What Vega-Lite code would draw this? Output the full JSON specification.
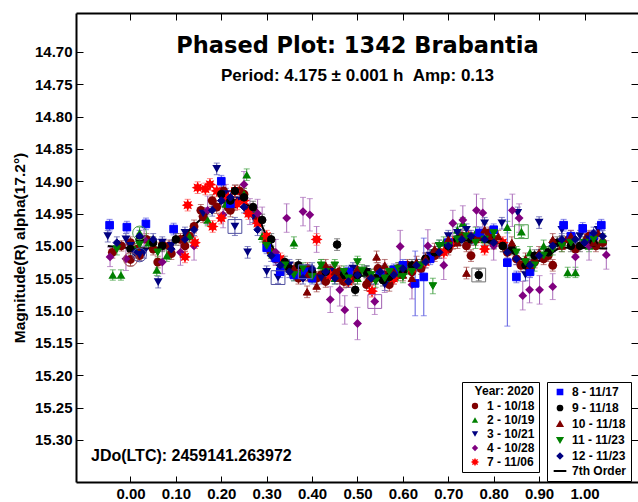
{
"$schema":"https://vega.github.io/schema/vega-lite/v6.json",
"width":562,"height":469,
"autosize":{"type":"none"},
"padding":{"left":76,"top":13,"right":0,"bottom":20},
"background":"white",
"config":{"view":{"stroke":null},"axis":{"grid":false}},
"datasets":{
"a":[
{"s":"1 - 10/18","p":-0.04,"m":15.010,"e":0.009},{"s":"1 - 10/18","p":-0.02,"m":15.000,"e":0.008},{"s":"1 - 10/18","p":0.00,"m":14.995,"e":0.009},{"s":"1 - 10/18","p":0.02,"m":15.015,"e":0.008},{"s":"1 - 10/18","p":0.00,"m":15.021,"e":0.010},{"s":"1 - 10/18","p":0.05,"m":15.005,"e":0.009},{"s":"1 - 10/18","p":0.06,"m":15.025,"e":0.009},{"s":"1 - 10/18","p":0.07,"m":14.998,"e":0.008},{"s":"1 - 10/18","p":0.09,"m":15.012,"e":0.009},{"s":"1 - 10/18","p":0.11,"m":14.990,"e":0.009},{"s":"1 - 10/18","p":0.12,"m":15.000,"e":0.009},{"s":"1 - 10/18","p":0.14,"m":14.970,"e":0.010},{"s":"1 - 10/18","p":0.16,"m":14.955,"e":0.009},{"s":"1 - 10/18","p":0.18,"m":14.930,"e":0.009},{"s":"1 - 10/18","p":0.19,"m":14.940,"e":0.010},{"s":"1 - 10/18","p":0.21,"m":14.925,"e":0.009},{"s":"1 - 10/18","p":0.22,"m":14.945,"e":0.010},{"s":"1 - 10/18","p":0.23,"m":14.935,"e":0.010},{"s":"1 - 10/18","p":0.24,"m":14.915,"e":0.009},{"s":"1 - 10/18","p":0.25,"m":14.920,"e":0.009},{"s":"1 - 10/18","p":0.26,"m":14.945,"e":0.010},{"s":"1 - 10/18","p":0.28,"m":14.960,"e":0.009},{"s":"1 - 10/18","p":0.30,"m":14.995,"e":0.009},{"s":"1 - 10/18","p":0.32,"m":15.020,"e":0.010},{"s":"1 - 10/18","p":0.35,"m":15.035,"e":0.009},{"s":"1 - 10/18","p":0.38,"m":15.040,"e":0.009},{"s":"1 - 10/18","p":0.41,"m":15.050,"e":0.010},{"s":"1 - 10/18","p":0.43,"m":15.055,"e":0.009},{"s":"1 - 10/18","p":0.44,"m":15.038,"e":0.009},{"s":"1 - 10/18","p":0.47,"m":15.055,"e":0.010},{"s":"1 - 10/18","p":0.50,"m":15.042,"e":0.009},{"s":"1 - 10/18","p":0.53,"m":15.050,"e":0.010},{"s":"1 - 10/18","p":0.56,"m":15.045,"e":0.009},{"s":"1 - 10/18","p":0.57,"m":15.060,"e":0.010},{"s":"1 - 10/18","p":0.59,"m":15.035,"e":0.009},{"s":"1 - 10/18","p":0.62,"m":15.040,"e":0.010},{"s":"1 - 10/18","p":0.65,"m":15.020,"e":0.009},{"s":"1 - 10/18","p":0.68,"m":15.010,"e":0.009},{"s":"1 - 10/18","p":0.71,"m":14.995,"e":0.010},{"s":"1 - 10/18","p":0.74,"m":15.000,"e":0.009},{"s":"1 - 10/18","p":0.75,"m":15.015,"e":0.009},{"s":"1 - 10/18","p":0.77,"m":14.985,"e":0.009},{"s":"1 - 10/18","p":0.80,"m":14.995,"e":0.010},{"s":"1 - 10/18","p":0.83,"m":15.010,"e":0.009},{"s":"1 - 10/18","p":0.86,"m":15.030,"e":0.010},{"s":"1 - 10/18","p":0.89,"m":15.025,"e":0.009},{"s":"1 - 10/18","p":0.92,"m":15.015,"e":0.009},{"s":"1 - 10/18","p":0.93,"m":15.030,"e":0.009},{"s":"1 - 10/18","p":0.95,"m":14.995,"e":0.010},{"s":"1 - 10/18","p":0.98,"m":15.005,"e":0.009},{"s":"1 - 10/18","p":1.01,"m":14.985,"e":0.009},{"s":"1 - 10/18","p":1.04,"m":14.995,"e":0.010},
{"s":"1 - 10/18","p":0.015,"m":15.005,"e":0.009},{"s":"1 - 10/18","p":0.035,"m":14.990,"e":0.009},{"s":"1 - 10/18","p":0.085,"m":15.000,"e":0.009},{"s":"1 - 10/18","p":0.13,"m":14.985,"e":0.009},{"s":"1 - 10/18","p":0.155,"m":14.945,"e":0.009},{"s":"1 - 10/18","p":0.205,"m":14.915,"e":0.009},{"s":"1 - 10/18","p":0.215,"m":14.940,"e":0.009},{"s":"1 - 10/18","p":0.275,"m":14.950,"e":0.009},{"s":"1 - 10/18","p":0.31,"m":15.010,"e":0.009},{"s":"1 - 10/18","p":0.34,"m":15.030,"e":0.009},{"s":"1 - 10/18","p":0.37,"m":15.050,"e":0.009},{"s":"1 - 10/18","p":0.39,"m":15.035,"e":0.009},{"s":"1 - 10/18","p":0.42,"m":15.045,"e":0.009},{"s":"1 - 10/18","p":0.46,"m":15.040,"e":0.009},{"s":"1 - 10/18","p":0.49,"m":15.050,"e":0.009},{"s":"1 - 10/18","p":0.52,"m":15.060,"e":0.009},{"s":"1 - 10/18","p":0.545,"m":15.035,"e":0.009},{"s":"1 - 10/18","p":0.58,"m":15.050,"e":0.009},{"s":"1 - 10/18","p":0.61,"m":15.030,"e":0.009},{"s":"1 - 10/18","p":0.64,"m":15.035,"e":0.009},{"s":"1 - 10/18","p":0.67,"m":15.015,"e":0.009},{"s":"1 - 10/18","p":0.70,"m":15.005,"e":0.009},{"s":"1 - 10/18","p":0.73,"m":14.985,"e":0.009},{"s":"1 - 10/18","p":0.79,"m":14.980,"e":0.009},{"s":"1 - 10/18","p":0.82,"m":15.000,"e":0.009},{"s":"1 - 10/18","p":0.85,"m":15.020,"e":0.009},{"s":"1 - 10/18","p":0.88,"m":15.035,"e":0.009},{"s":"1 - 10/18","p":0.91,"m":15.020,"e":0.009},{"s":"1 - 10/18","p":0.965,"m":14.990,"e":0.009},{"s":"1 - 10/18","p":1.025,"m":15.000,"e":0.009},
{"s":"2 - 10/19","p":-0.039,"m":15.045,"e":0.008},{"s":"2 - 10/19","p":-0.021,"m":15.045,"e":0.008},{"s":"2 - 10/19","p":0.01,"m":15.005,"e":0.009},{"s":"2 - 10/19","p":0.02,"m":14.980,"e":0.009},{"s":"2 - 10/19","p":0.04,"m":14.995,"e":0.009},{"s":"2 - 10/19","p":0.058,"m":15.037,"e":0.009},{"s":"2 - 10/19","p":0.08,"m":15.015,"e":0.009},{"s":"2 - 10/19","p":0.13,"m":14.985,"e":0.009},{"s":"2 - 10/19","p":0.17,"m":14.960,"e":0.009},{"s":"2 - 10/19","p":0.21,"m":14.935,"e":0.009},{"s":"2 - 10/19","p":0.256,"m":14.890,"e":0.009},{"s":"2 - 10/19","p":0.27,"m":14.945,"e":0.009},{"s":"2 - 10/19","p":0.29,"m":14.985,"e":0.009},{"s":"2 - 10/19","p":0.33,"m":15.030,"e":0.009},{"s":"2 - 10/19","p":0.36,"m":14.995,"e":0.009},{"s":"2 - 10/19","p":0.37,"m":15.040,"e":0.009},{"s":"2 - 10/19","p":0.42,"m":15.030,"e":0.009},{"s":"2 - 10/19","p":0.47,"m":15.045,"e":0.009},{"s":"2 - 10/19","p":0.52,"m":15.040,"e":0.009},{"s":"2 - 10/19","p":0.57,"m":15.050,"e":0.009},{"s":"2 - 10/19","p":0.61,"m":15.035,"e":0.009},{"s":"2 - 10/19","p":0.66,"m":15.015,"e":0.009},{"s":"2 - 10/19","p":0.69,"m":14.995,"e":0.009},{"s":"2 - 10/19","p":0.72,"m":14.975,"e":0.009},{"s":"2 - 10/19","p":0.732,"m":14.965,"e":0.009},{"s":"2 - 10/19","p":0.76,"m":14.980,"e":0.009},{"s":"2 - 10/19","p":0.80,"m":14.985,"e":0.009},{"s":"2 - 10/19","p":0.83,"m":14.971,"e":0.009},{"s":"2 - 10/19","p":0.861,"m":14.978,"e":0.009},{"s":"2 - 10/19","p":0.88,"m":15.010,"e":0.009},{"s":"2 - 10/19","p":0.91,"m":15.000,"e":0.009},{"s":"2 - 10/19","p":0.963,"m":15.041,"e":0.008},{"s":"2 - 10/19","p":0.98,"m":15.041,"e":0.008},{"s":"2 - 10/19","p":1.01,"m":15.000,"e":0.009},{"s":"2 - 10/19","p":1.04,"m":14.990,"e":0.009},
{"s":"2 - 10/19","p":0.25,"m":14.920,"e":0.009},{"s":"2 - 10/19","p":0.31,"m":15.010,"e":0.009},{"s":"2 - 10/19","p":0.39,"m":15.040,"e":0.009},{"s":"2 - 10/19","p":0.45,"m":15.050,"e":0.009},{"s":"2 - 10/19","p":0.50,"m":15.050,"e":0.009},{"s":"2 - 10/19","p":0.55,"m":15.040,"e":0.009},{"s":"2 - 10/19","p":0.59,"m":15.045,"e":0.009},{"s":"2 - 10/19","p":0.63,"m":15.030,"e":0.009},{"s":"2 - 10/19","p":0.74,"m":14.985,"e":0.009},{"s":"2 - 10/19","p":0.78,"m":14.990,"e":0.009},{"s":"2 - 10/19","p":0.92,"m":15.010,"e":0.009},{"s":"2 - 10/19","p":0.95,"m":14.995,"e":0.009},
{"s":"3 - 10/21","p":-0.05,"m":14.985,"e":0.009},{"s":"3 - 10/21","p":-0.01,"m":14.990,"e":0.009},{"s":"3 - 10/21","p":0.02,"m":15.014,"e":0.009},{"s":"3 - 10/21","p":0.03,"m":15.010,"e":0.009},{"s":"3 - 10/21","p":0.061,"m":15.056,"e":0.009},{"s":"3 - 10/21","p":0.09,"m":15.000,"e":0.009},{"s":"3 - 10/21","p":0.12,"m":14.980,"e":0.009},{"s":"3 - 10/21","p":0.16,"m":14.950,"e":0.009},{"s":"3 - 10/21","p":0.19,"m":14.881,"e":0.009},{"s":"3 - 10/21","p":0.21,"m":14.920,"e":0.009},{"s":"3 - 10/21","p":0.23,"m":14.970,"e":0.014},{"s":"3 - 10/21","p":0.24,"m":14.930,"e":0.009},{"s":"3 - 10/21","p":0.258,"m":15.010,"e":0.009},{"s":"3 - 10/21","p":0.27,"m":14.955,"e":0.009},{"s":"3 - 10/21","p":0.30,"m":15.040,"e":0.009},{"s":"3 - 10/21","p":0.325,"m":15.049,"e":0.009},{"s":"3 - 10/21","p":0.35,"m":15.030,"e":0.009},{"s":"3 - 10/21","p":0.39,"m":15.045,"e":0.009},{"s":"3 - 10/21","p":0.44,"m":15.040,"e":0.009},{"s":"3 - 10/21","p":0.49,"m":15.035,"e":0.009},{"s":"3 - 10/21","p":0.54,"m":15.050,"e":0.009},{"s":"3 - 10/21","p":0.58,"m":15.040,"e":0.009},{"s":"3 - 10/21","p":0.62,"m":15.035,"e":0.009},{"s":"3 - 10/21","p":0.66,"m":15.015,"e":0.009},{"s":"3 - 10/21","p":0.70,"m":14.985,"e":0.009},{"s":"3 - 10/21","p":0.74,"m":14.975,"e":0.009},{"s":"3 - 10/21","p":0.78,"m":14.965,"e":0.009},{"s":"3 - 10/21","p":0.818,"m":14.965,"e":0.009},{"s":"3 - 10/21","p":0.853,"m":14.949,"e":0.009},{"s":"3 - 10/21","p":0.87,"m":15.045,"e":0.009},{"s":"3 - 10/21","p":0.90,"m":14.964,"e":0.009},{"s":"3 - 10/21","p":0.95,"m":14.975,"e":0.009},{"s":"3 - 10/21","p":0.99,"m":14.985,"e":0.009},{"s":"3 - 10/21","p":1.03,"m":14.975,"e":0.009},
{"s":"3 - 10/21","p":0.00,"m":15.000,"e":0.009},{"s":"3 - 10/21","p":0.07,"m":14.995,"e":0.009},{"s":"3 - 10/21","p":0.33,"m":15.035,"e":0.009},{"s":"3 - 10/21","p":0.42,"m":15.050,"e":0.009},{"s":"3 - 10/21","p":0.47,"m":15.045,"e":0.009},{"s":"3 - 10/21","p":0.52,"m":15.040,"e":0.009},{"s":"3 - 10/21","p":0.56,"m":15.060,"e":0.009},{"s":"3 - 10/21","p":0.60,"m":15.040,"e":0.009},{"s":"3 - 10/21","p":0.64,"m":15.030,"e":0.009},{"s":"3 - 10/21","p":0.68,"m":15.000,"e":0.009},{"s":"3 - 10/21","p":0.72,"m":14.980,"e":0.009},{"s":"3 - 10/21","p":0.88,"m":15.030,"e":0.009},{"s":"3 - 10/21","p":0.93,"m":15.000,"e":0.009},{"s":"3 - 10/21","p":1.01,"m":14.990,"e":0.009},
{"s":"4 - 10/28","p":-0.045,"m":15.017,"e":0.015},{"s":"4 - 10/28","p":-0.01,"m":15.020,"e":0.018},{"s":"4 - 10/28","p":0.03,"m":14.990,"e":0.020},{"s":"4 - 10/28","p":0.07,"m":15.025,"e":0.018},{"s":"4 - 10/28","p":0.11,"m":15.010,"e":0.020},{"s":"4 - 10/28","p":0.14,"m":15.000,"e":0.022},{"s":"4 - 10/28","p":0.17,"m":14.945,"e":0.022},{"s":"4 - 10/28","p":0.204,"m":14.952,"e":0.020},{"s":"4 - 10/28","p":0.21,"m":14.925,"e":0.020},{"s":"4 - 10/28","p":0.25,"m":14.905,"e":0.020},{"s":"4 - 10/28","p":0.263,"m":14.947,"e":0.020},{"s":"4 - 10/28","p":0.28,"m":14.950,"e":0.022},{"s":"4 - 10/28","p":0.29,"m":14.960,"e":0.020},{"s":"4 - 10/28","p":0.32,"m":15.010,"e":0.020},{"s":"4 - 10/28","p":0.344,"m":14.957,"e":0.022},{"s":"4 - 10/28","p":0.38,"m":14.947,"e":0.022},{"s":"4 - 10/28","p":0.395,"m":14.952,"e":0.025},{"s":"4 - 10/28","p":0.41,"m":14.990,"e":0.020},{"s":"4 - 10/28","p":0.44,"m":15.083,"e":0.020},{"s":"4 - 10/28","p":0.461,"m":15.068,"e":0.025},{"s":"4 - 10/28","p":0.472,"m":15.099,"e":0.022},{"s":"4 - 10/28","p":0.50,"m":15.120,"e":0.025},{"s":"4 - 10/28","p":0.538,"m":15.086,"e":0.020},{"s":"4 - 10/28","p":0.56,"m":15.050,"e":0.022},{"s":"4 - 10/28","p":0.594,"m":15.001,"e":0.025},{"s":"4 - 10/28","p":0.62,"m":15.060,"e":0.022},{"s":"4 - 10/28","p":0.655,"m":15.000,"e":0.025},{"s":"4 - 10/28","p":0.69,"m":15.030,"e":0.022},{"s":"4 - 10/28","p":0.71,"m":14.965,"e":0.020},{"s":"4 - 10/28","p":0.732,"m":14.960,"e":0.022},{"s":"4 - 10/28","p":0.762,"m":14.945,"e":0.025},{"s":"4 - 10/28","p":0.776,"m":14.949,"e":0.022},{"s":"4 - 10/28","p":0.80,"m":15.000,"e":0.022},{"s":"4 - 10/28","p":0.841,"m":14.945,"e":0.025},{"s":"4 - 10/28","p":0.856,"m":14.957,"e":0.022},{"s":"4 - 10/28","p":0.864,"m":15.077,"e":0.022},{"s":"4 - 10/28","p":0.879,"m":15.068,"e":0.020},{"s":"4 - 10/28","p":0.901,"m":15.068,"e":0.022},{"s":"4 - 10/28","p":0.93,"m":15.063,"e":0.020},{"s":"4 - 10/28","p":0.98,"m":15.017,"e":0.020},{"s":"4 - 10/28","p":1.01,"m":15.000,"e":0.022},{"s":"4 - 10/28","p":1.048,"m":15.014,"e":0.022},
{"s":"7 - 11/06","p":0.12,"m":15.017,"e":0.009},{"s":"7 - 11/06","p":0.126,"m":14.937,"e":0.009},{"s":"7 - 11/06","p":0.142,"m":14.995,"e":0.009},{"s":"7 - 11/06","p":0.148,"m":14.910,"e":0.009},{"s":"7 - 11/06","p":0.165,"m":14.912,"e":0.009},{"s":"7 - 11/06","p":0.175,"m":14.905,"e":0.009},{"s":"7 - 11/06","p":0.181,"m":14.970,"e":0.009},{"s":"7 - 11/06","p":0.19,"m":14.915,"e":0.009},{"s":"7 - 11/06","p":0.20,"m":14.957,"e":0.009},{"s":"7 - 11/06","p":0.215,"m":14.925,"e":0.009},{"s":"7 - 11/06","p":0.23,"m":14.915,"e":0.009},{"s":"7 - 11/06","p":0.235,"m":14.935,"e":0.009},{"s":"7 - 11/06","p":0.25,"m":14.930,"e":0.009},{"s":"7 - 11/06","p":0.26,"m":14.950,"e":0.009},{"s":"7 - 11/06","p":0.28,"m":14.965,"e":0.009},{"s":"7 - 11/06","p":0.30,"m":14.985,"e":0.009},{"s":"7 - 11/06","p":0.33,"m":15.020,"e":0.009},{"s":"7 - 11/06","p":0.36,"m":15.040,"e":0.009},{"s":"7 - 11/06","p":0.41,"m":14.990,"e":0.009},{"s":"7 - 11/06","p":0.44,"m":15.045,"e":0.009},{"s":"7 - 11/06","p":0.48,"m":15.055,"e":0.009},{"s":"7 - 11/06","p":0.532,"m":15.070,"e":0.009},{"s":"7 - 11/06","p":0.58,"m":15.050,"e":0.009},{"s":"7 - 11/06","p":0.62,"m":15.035,"e":0.009},{"s":"7 - 11/06","p":0.65,"m":15.025,"e":0.009},{"s":"7 - 11/06","p":0.69,"m":15.010,"e":0.009},{"s":"7 - 11/06","p":0.71,"m":14.995,"e":0.009},{"s":"7 - 11/06","p":0.745,"m":14.985,"e":0.009},{"s":"7 - 11/06","p":0.78,"m":15.005,"e":0.009},{"s":"7 - 11/06","p":0.82,"m":14.995,"e":0.009}
],
"b":[
{"s":"8 - 11/17","p":-0.046,"m":14.968,"e":0.009},{"s":"8 - 11/17","p":-0.008,"m":14.971,"e":0.009},{"s":"8 - 11/17","p":0.034,"m":14.966,"e":0.009},{"s":"8 - 11/17","p":0.095,"m":14.974,"e":0.009},{"s":"8 - 11/17","p":0.20,"m":14.900,"e":0.009},{"s":"8 - 11/17","p":0.22,"m":14.935,"e":0.009},{"s":"8 - 11/17","p":0.30,"m":15.003,"e":0.009},{"s":"8 - 11/17","p":0.32,"m":15.019,"e":0.009},{"s":"8 - 11/17","p":0.33,"m":15.040,"e":0.009},{"s":"8 - 11/17","p":0.36,"m":15.045,"e":0.009},{"s":"8 - 11/17","p":0.385,"m":15.040,"e":0.009},{"s":"8 - 11/17","p":0.40,"m":15.050,"e":0.009},{"s":"8 - 11/17","p":0.48,"m":15.040,"e":0.009},{"s":"8 - 11/17","p":0.55,"m":15.045,"e":0.009},{"s":"8 - 11/17","p":0.58,"m":15.037,"e":0.009},{"s":"8 - 11/17","p":0.60,"m":15.030,"e":0.009},{"s":"8 - 11/17","p":0.627,"m":15.058,"e":0.050},{"s":"8 - 11/17","p":0.646,"m":15.048,"e":0.060},{"s":"8 - 11/17","p":0.66,"m":15.020,"e":0.009},{"s":"8 - 11/17","p":0.70,"m":14.995,"e":0.009},{"s":"8 - 11/17","p":0.753,"m":14.988,"e":0.009},{"s":"8 - 11/17","p":0.769,"m":14.980,"e":0.009},{"s":"8 - 11/17","p":0.80,"m":14.975,"e":0.009},{"s":"8 - 11/17","p":0.83,"m":15.026,"e":0.098},{"s":"8 - 11/17","p":0.85,"m":15.048,"e":0.009},{"s":"8 - 11/17","p":0.88,"m":15.040,"e":0.009},{"s":"8 - 11/17","p":0.954,"m":14.968,"e":0.009},{"s":"8 - 11/17","p":0.97,"m":14.985,"e":0.009},{"s":"8 - 11/17","p":0.996,"m":14.973,"e":0.009},{"s":"8 - 11/17","p":1.02,"m":14.985,"e":0.009},{"s":"8 - 11/17","p":1.037,"m":14.968,"e":0.009},
{"s":"9 - 11/18","p":0.00,"m":15.005,"e":0.009},{"s":"9 - 11/18","p":0.05,"m":14.995,"e":0.009},{"s":"9 - 11/18","p":0.10,"m":14.990,"e":0.009},{"s":"9 - 11/18","p":0.20,"m":14.920,"e":0.009},{"s":"9 - 11/18","p":0.23,"m":14.915,"e":0.009},{"s":"9 - 11/18","p":0.25,"m":14.925,"e":0.009},{"s":"9 - 11/18","p":0.27,"m":14.940,"e":0.009},{"s":"9 - 11/18","p":0.29,"m":14.960,"e":0.009},{"s":"9 - 11/18","p":0.31,"m":14.990,"e":0.009},{"s":"9 - 11/18","p":0.34,"m":15.025,"e":0.009},{"s":"9 - 11/18","p":0.37,"m":15.030,"e":0.009},{"s":"9 - 11/18","p":0.40,"m":15.040,"e":0.009},{"s":"9 - 11/18","p":0.455,"m":14.998,"e":0.009},{"s":"9 - 11/18","p":0.47,"m":15.045,"e":0.009},{"s":"9 - 11/18","p":0.495,"m":15.068,"e":0.009},{"s":"9 - 11/18","p":0.52,"m":15.040,"e":0.009},{"s":"9 - 11/18","p":0.556,"m":15.053,"e":0.009},{"s":"9 - 11/18","p":0.57,"m":15.048,"e":0.009},{"s":"9 - 11/18","p":0.62,"m":15.030,"e":0.009},{"s":"9 - 11/18","p":0.67,"m":15.010,"e":0.009},{"s":"9 - 11/18","p":0.72,"m":14.990,"e":0.009},{"s":"9 - 11/18","p":0.767,"m":15.045,"e":0.009},{"s":"9 - 11/18","p":0.79,"m":14.990,"e":0.009},{"s":"9 - 11/18","p":0.84,"m":15.005,"e":0.009},{"s":"9 - 11/18","p":0.89,"m":15.015,"e":0.009},{"s":"9 - 11/18","p":0.94,"m":14.995,"e":0.009},{"s":"9 - 11/18","p":0.99,"m":15.000,"e":0.009},
{"s":"9 - 11/18","p":0.02,"m":14.990,"e":0.009},{"s":"9 - 11/18","p":0.07,"m":15.000,"e":0.009},{"s":"9 - 11/18","p":0.22,"m":14.930,"e":0.009},{"s":"9 - 11/18","p":0.35,"m":15.035,"e":0.009},{"s":"9 - 11/18","p":0.43,"m":15.040,"e":0.009},{"s":"9 - 11/18","p":0.50,"m":15.045,"e":0.009},{"s":"9 - 11/18","p":0.54,"m":15.050,"e":0.009},{"s":"9 - 11/18","p":0.60,"m":15.040,"e":0.009},{"s":"9 - 11/18","p":0.65,"m":15.020,"e":0.009},{"s":"9 - 11/18","p":0.70,"m":15.000,"e":0.009},{"s":"9 - 11/18","p":0.75,"m":14.990,"e":0.009},{"s":"9 - 11/18","p":0.82,"m":15.000,"e":0.009},{"s":"9 - 11/18","p":0.87,"m":15.030,"e":0.009},{"s":"9 - 11/18","p":0.92,"m":15.010,"e":0.009},{"s":"9 - 11/18","p":0.97,"m":15.000,"e":0.009},{"s":"9 - 11/18","p":1.02,"m":14.995,"e":0.009},
{"s":"10 - 11/18","p":0.36,"m":15.035,"e":0.009},{"s":"10 - 11/18","p":0.389,"m":15.071,"e":0.009},{"s":"10 - 11/18","p":0.41,"m":15.062,"e":0.009},{"s":"10 - 11/18","p":0.43,"m":15.030,"e":0.009},{"s":"10 - 11/18","p":0.46,"m":15.050,"e":0.009},{"s":"10 - 11/18","p":0.477,"m":15.055,"e":0.009},{"s":"10 - 11/18","p":0.50,"m":15.035,"e":0.009},{"s":"10 - 11/18","p":0.53,"m":15.045,"e":0.009},{"s":"10 - 11/18","p":0.542,"m":15.017,"e":0.009},{"s":"10 - 11/18","p":0.56,"m":15.030,"e":0.009},{"s":"10 - 11/18","p":0.60,"m":15.045,"e":0.009},{"s":"10 - 11/18","p":0.63,"m":15.025,"e":0.009},{"s":"10 - 11/18","p":0.67,"m":15.005,"e":0.009},{"s":"10 - 11/18","p":0.70,"m":14.990,"e":0.009},{"s":"10 - 11/18","p":0.74,"m":15.042,"e":0.009},{"s":"10 - 11/18","p":0.78,"m":14.975,"e":0.009},{"s":"10 - 11/18","p":0.81,"m":14.985,"e":0.009},{"s":"10 - 11/18","p":0.84,"m":14.995,"e":0.009},{"s":"10 - 11/18","p":0.87,"m":15.020,"e":0.009},{"s":"10 - 11/18","p":0.90,"m":15.010,"e":0.009},{"s":"10 - 11/18","p":0.93,"m":14.990,"e":0.009},{"s":"10 - 11/18","p":0.97,"m":14.985,"e":0.009},{"s":"10 - 11/18","p":1.00,"m":14.990,"e":0.009},{"s":"10 - 11/18","p":1.03,"m":14.980,"e":0.009},
{"s":"10 - 11/18","p":0.39,"m":15.045,"e":0.009},{"s":"10 - 11/18","p":0.45,"m":15.040,"e":0.009},{"s":"10 - 11/18","p":0.52,"m":15.055,"e":0.009},{"s":"10 - 11/18","p":0.58,"m":15.040,"e":0.009},{"s":"10 - 11/18","p":0.62,"m":15.050,"e":0.009},{"s":"10 - 11/18","p":0.65,"m":15.020,"e":0.009},{"s":"10 - 11/18","p":0.72,"m":14.995,"e":0.009},{"s":"10 - 11/18","p":0.76,"m":14.990,"e":0.009},{"s":"10 - 11/18","p":0.79,"m":14.985,"e":0.009},{"s":"10 - 11/18","p":0.88,"m":15.030,"e":0.009},{"s":"10 - 11/18","p":0.95,"m":15.000,"e":0.009},{"s":"10 - 11/18","p":1.02,"m":14.995,"e":0.009},
{"s":"11 - 11/23","p":-0.03,"m":15.005,"e":0.009},{"s":"11 - 11/23","p":0.02,"m":14.998,"e":0.009},{"s":"11 - 11/23","p":0.06,"m":15.010,"e":0.009},{"s":"11 - 11/23","p":0.30,"m":15.000,"e":0.009},{"s":"11 - 11/23","p":0.34,"m":15.030,"e":0.009},{"s":"11 - 11/23","p":0.38,"m":15.035,"e":0.009},{"s":"11 - 11/23","p":0.40,"m":15.048,"e":0.009},{"s":"11 - 11/23","p":0.43,"m":15.040,"e":0.009},{"s":"11 - 11/23","p":0.45,"m":15.030,"e":0.009},{"s":"11 - 11/23","p":0.48,"m":15.050,"e":0.009},{"s":"11 - 11/23","p":0.50,"m":15.025,"e":0.009},{"s":"11 - 11/23","p":0.51,"m":15.038,"e":0.009},{"s":"11 - 11/23","p":0.54,"m":15.055,"e":0.009},{"s":"11 - 11/23","p":0.57,"m":15.040,"e":0.009},{"s":"11 - 11/23","p":0.60,"m":15.048,"e":0.009},{"s":"11 - 11/23","p":0.64,"m":15.030,"e":0.009},{"s":"11 - 11/23","p":0.666,"m":15.062,"e":0.012},{"s":"11 - 11/23","p":0.68,"m":15.000,"e":0.009},{"s":"11 - 11/23","p":0.72,"m":14.990,"e":0.009},{"s":"11 - 11/23","p":0.76,"m":14.995,"e":0.009},{"s":"11 - 11/23","p":0.80,"m":14.980,"e":0.009},{"s":"11 - 11/23","p":0.85,"m":15.010,"e":0.009},{"s":"11 - 11/23","p":0.89,"m":15.030,"e":0.009},{"s":"11 - 11/23","p":0.93,"m":15.005,"e":0.009},{"s":"11 - 11/23","p":0.97,"m":14.995,"e":0.009},{"s":"11 - 11/23","p":1.02,"m":14.990,"e":0.009},
{"s":"11 - 11/23","p":0.36,"m":15.045,"e":0.009},{"s":"11 - 11/23","p":0.42,"m":15.030,"e":0.009},{"s":"11 - 11/23","p":0.47,"m":15.040,"e":0.009},{"s":"11 - 11/23","p":0.53,"m":15.045,"e":0.009},{"s":"11 - 11/23","p":0.56,"m":15.050,"e":0.009},{"s":"11 - 11/23","p":0.59,"m":15.035,"e":0.009},{"s":"11 - 11/23","p":0.62,"m":15.040,"e":0.009},{"s":"11 - 11/23","p":0.70,"m":15.000,"e":0.009},{"s":"11 - 11/23","p":0.74,"m":14.985,"e":0.009},{"s":"11 - 11/23","p":0.78,"m":14.990,"e":0.009},{"s":"11 - 11/23","p":0.87,"m":15.025,"e":0.009},{"s":"11 - 11/23","p":0.91,"m":15.015,"e":0.009},{"s":"11 - 11/23","p":0.95,"m":15.000,"e":0.009},{"s":"11 - 11/23","p":1.00,"m":14.995,"e":0.009},
{"s":"12 - 11/23","p":-0.03,"m":14.995,"e":0.009},{"s":"12 - 11/23","p":0.01,"m":15.010,"e":0.009},{"s":"12 - 11/23","p":0.05,"m":14.990,"e":0.009},{"s":"12 - 11/23","p":0.09,"m":15.005,"e":0.009},{"s":"12 - 11/23","p":0.14,"m":14.975,"e":0.009},{"s":"12 - 11/23","p":0.18,"m":14.945,"e":0.009},{"s":"12 - 11/23","p":0.22,"m":14.925,"e":0.009},{"s":"12 - 11/23","p":0.25,"m":14.940,"e":0.009},{"s":"12 - 11/23","p":0.28,"m":14.975,"e":0.009},{"s":"12 - 11/23","p":0.31,"m":15.015,"e":0.009},{"s":"12 - 11/23","p":0.35,"m":15.040,"e":0.009},{"s":"12 - 11/23","p":0.40,"m":15.035,"e":0.009},{"s":"12 - 11/23","p":0.45,"m":15.050,"e":0.009},{"s":"12 - 11/23","p":0.50,"m":15.045,"e":0.009},{"s":"12 - 11/23","p":0.55,"m":15.040,"e":0.009},{"s":"12 - 11/23","p":0.60,"m":15.035,"e":0.009},{"s":"12 - 11/23","p":0.65,"m":15.025,"e":0.009},{"s":"12 - 11/23","p":0.70,"m":15.000,"e":0.009},{"s":"12 - 11/23","p":0.75,"m":14.985,"e":0.009},{"s":"12 - 11/23","p":0.80,"m":14.995,"e":0.009},{"s":"12 - 11/23","p":0.85,"m":15.020,"e":0.009},{"s":"12 - 11/23","p":0.90,"m":15.015,"e":0.009},{"s":"12 - 11/23","p":0.95,"m":14.990,"e":0.009},{"s":"12 - 11/23","p":1.00,"m":14.995,"e":0.009},{"s":"12 - 11/23","p":1.04,"m":14.985,"e":0.009},
{"s":"12 - 11/23","p":0.02,"m":14.985,"e":0.009},{"s":"12 - 11/23","p":0.12,"m":14.990,"e":0.009},{"s":"12 - 11/23","p":0.20,"m":14.930,"e":0.009},{"s":"12 - 11/23","p":0.33,"m":15.030,"e":0.009},{"s":"12 - 11/23","p":0.38,"m":15.050,"e":0.009},{"s":"12 - 11/23","p":0.43,"m":15.040,"e":0.009},{"s":"12 - 11/23","p":0.48,"m":15.055,"e":0.009},{"s":"12 - 11/23","p":0.53,"m":15.050,"e":0.009},{"s":"12 - 11/23","p":0.58,"m":15.045,"e":0.009},{"s":"12 - 11/23","p":0.63,"m":15.030,"e":0.009},{"s":"12 - 11/23","p":0.68,"m":15.010,"e":0.009},{"s":"12 - 11/23","p":0.73,"m":14.990,"e":0.009},{"s":"12 - 11/23","p":0.78,"m":14.990,"e":0.009},{"s":"12 - 11/23","p":0.83,"m":15.010,"e":0.009},{"s":"12 - 11/23","p":0.88,"m":15.030,"e":0.009},{"s":"12 - 11/23","p":0.93,"m":15.000,"e":0.009},{"s":"12 - 11/23","p":0.98,"m":14.990,"e":0.009},{"s":"12 - 11/23","p":1.02,"m":14.980,"e":0.009}
],
"fit":[
{"p":-0.05,"m":15.000},{"p":0.00,"m":15.003},{"p":0.05,"m":15.004},{"p":0.10,"m":14.993},{"p":0.15,"m":14.962},{"p":0.20,"m":14.934},{"p":0.23,"m":14.929},{"p":0.25,"m":14.933},{"p":0.28,"m":14.955},{"p":0.30,"m":14.985},{"p":0.33,"m":15.020},{"p":0.36,"m":15.036},{"p":0.40,"m":15.044},{"p":0.45,"m":15.046},{"p":0.50,"m":15.046},{"p":0.55,"m":15.046},{"p":0.60,"m":15.040},{"p":0.65,"m":15.024},{"p":0.70,"m":15.004},{"p":0.75,"m":14.990},{"p":0.80,"m":14.993},{"p":0.85,"m":15.015},{"p":0.88,"m":15.027},{"p":0.91,"m":15.020},{"p":0.95,"m":15.003},{"p":1.00,"m":15.003},{"p":1.05,"m":15.004}
],
"rings":[
{"s":"3 - 10/21","k":"square","p":0.23,"m":14.970},{"s":"3 - 10/21","k":"square","p":0.325,"m":15.049},{"s":"8 - 11/17","k":"square","p":0.385,"m":15.040},{"s":"4 - 10/28","k":"square","p":0.538,"m":15.086},{"s":"9 - 11/18","k":"square","p":0.767,"m":15.045},{"s":"2 - 10/19","k":"square","p":0.861,"m":14.978},{"s":"1 - 10/18","k":"circle","p":0.00,"m":15.021},{"s":"3 - 10/21","k":"circle","p":0.02,"m":15.014},{"s":"2 - 10/19","k":"circle","p":0.02,"m":14.980}
]
},
"layer":[
{"data":{"name":"a"},"mark":{"type":"errorbar","ticks":true,"size":6,"thickness":1},
 "encoding":{
  "x":{"field":"p","type":"quantitative","scale":{"domain":[-0.12,1.1178],"nice":false,"zero":false},"axis":null},
  "y":{"field":"m","type":"quantitative","scale":{"domain":[14.64,15.365],"reverse":true,"nice":false,"zero":false},"axis":null},
  "yError":{"field":"e"},
  "color":{"field":"s","type":"nominal","scale":{"domain":["1 - 10/18","2 - 10/19","3 - 10/21","4 - 10/28","7 - 11/06"],"range":["#a04848","#40a040","#5050a8","#a868b8","#ff5858"]},"legend":null}}},
{"data":{"name":"b"},"mark":{"type":"errorbar","ticks":true,"size":6,"thickness":1},
 "encoding":{
  "x":{"field":"p","type":"quantitative","scale":{"domain":[-0.12,1.1178],"nice":false,"zero":false},"axis":null},
  "y":{"field":"m","type":"quantitative","scale":{"domain":[14.64,15.365],"reverse":true,"nice":false,"zero":false},"axis":null},
  "yError":{"field":"e"},
  "color":{"field":"s","type":"nominal","scale":{"domain":["8 - 11/17","9 - 11/18","10 - 11/18","11 - 11/23","12 - 11/23"],"range":["#5a5ae0","#555555","#a04848","#40a040","#5050a8"]},"legend":null}}},
{"data":{"name":"fit"},"mark":{"type":"line","color":"black","strokeWidth":2,"interpolate":"monotone"},
 "encoding":{
  "x":{"field":"p","type":"quantitative","scale":{"domain":[-0.12,1.1178],"nice":false,"zero":false},
   "axis":{"orient":"bottom","values":[0,0.1,0.2,0.3,0.4,0.5,0.6,0.7,0.8,0.9,1],"format":".2f","title":null,"grid":false,"domain":true,"domainColor":"black","domainWidth":2,"ticks":true,"tickColor":"black","tickWidth":1,"tickSize":-6,"labelPadding":10,"labelFont":"Liberation Sans","labelFontSize":15,"labelFontWeight":"bold","labelColor":"black","labelFlush":false,"labelOverlap":false}},
  "y":{"field":"m","type":"quantitative","scale":{"domain":[14.64,15.365],"reverse":true,"nice":false,"zero":false},
   "axis":{"orient":"left","values":[14.7,14.75,14.8,14.85,14.9,14.95,15.0,15.05,15.1,15.15,15.2,15.25,15.3],"format":".2f","title":"Magnitude(R) alpha(17.2°)","titleFont":"Liberation Sans","titleFontSize":15.5,"titleFontWeight":"bold","titleColor":"black","titleX":-57,"titleY":234.5,"titleAngle":270,"titleAlign":"center","titleBaseline":"middle","grid":false,"domain":true,"domainColor":"black","domainWidth":2,"ticks":true,"tickColor":"black","tickWidth":1,"tickSize":-7,"labelPadding":11,"labelFont":"Liberation Sans","labelFontSize":15,"labelFontWeight":"bold","labelColor":"black","labelOverlap":false}}}},
{"data":{"name":"a"},"mark":{"type":"point","filled":true,"opacity":1,"strokeWidth":0,"size":78},
 "encoding":{
  "x":{"field":"p","type":"quantitative","scale":{"domain":[-0.12,1.1178],"nice":false,"zero":false},"axis":null},
  "y":{"field":"m","type":"quantitative","scale":{"domain":[14.64,15.365],"reverse":true,"nice":false,"zero":false},"axis":null},
  "color":{"field":"s","type":"nominal","scale":{"domain":["1 - 10/18","2 - 10/19","3 - 10/21","4 - 10/28","7 - 11/06"],"range":["#800000","#008000","#000080","#800080","#ff0000"]},
   "legend":{"title":"Year: 2020","orient":"none","legendX":386,"legendY":369,"direction":"vertical","fillColor":"white","strokeColor":"black","padding":4,"titleFont":"Liberation Sans","titleFontSize":12,"titleFontWeight":"bold","titleColor":"black","titleAnchor":"end","titlePadding":2,"labelFont":"Liberation Sans","labelFontSize":12,"labelFontWeight":"bold","labelColor":"black","symbolSize":40,"symbolStrokeWidth":0,"rowPadding":2,"symbolOffset":3,"labelOffset":6}},
  "shape":{"field":"s","type":"nominal","scale":{"domain":["1 - 10/18","2 - 10/19","3 - 10/21","4 - 10/28","7 - 11/06"],"range":["circle","triangle-up","triangle-down","diamond","M0,-1.35L0.3,-0.72L0.96,-0.96L0.72,-0.3L1.35,0L0.72,0.3L0.96,0.96L0.3,0.72L0,1.35L-0.3,0.72L-0.96,0.96L-0.72,0.3L-1.35,0L-0.72,-0.3L-0.96,-0.96L-0.3,-0.72Z"]},
   "legend":{"title":"Year: 2020","orient":"none","legendX":386,"legendY":369,"direction":"vertical","fillColor":"white","strokeColor":"black","padding":4,"titleFont":"Liberation Sans","titleFontSize":12,"titleFontWeight":"bold","titleColor":"black","titleAnchor":"end","titlePadding":2,"labelFont":"Liberation Sans","labelFontSize":12,"labelFontWeight":"bold","labelColor":"black","symbolSize":40,"symbolStrokeWidth":0,"rowPadding":2,"symbolOffset":3,"labelOffset":6}}}},
{"data":{"name":"b"},"mark":{"type":"point","filled":true,"opacity":1,"strokeWidth":1,"size":58},
 "encoding":{
  "x":{"field":"p","type":"quantitative","scale":{"domain":[-0.12,1.1178],"nice":false,"zero":false},"axis":null},
  "y":{"field":"m","type":"quantitative","scale":{"domain":[14.64,15.365],"reverse":true,"nice":false,"zero":false},"axis":null},
  "color":{"field":"s","type":"nominal","scale":{"domain":["8 - 11/17","9 - 11/18","10 - 11/18","11 - 11/23","12 - 11/23","7th Order"],"range":["#0000ff","#000000","#800000","#008000","#000080","#000000"]},
   "legend":{"title":null,"orient":"none","legendX":471,"legendY":369,"direction":"vertical","fillColor":"white","strokeColor":"black","padding":4,"labelFont":"Liberation Sans","labelFontSize":12,"labelFontWeight":"bold","labelColor":"black","symbolSize":22,"symbolStrokeWidth":2,"rowPadding":2,"symbolOffset":3,"labelOffset":6}},
  "stroke":{"field":"s","type":"nominal","scale":{"domain":["8 - 11/17","9 - 11/18","10 - 11/18","11 - 11/23","12 - 11/23","7th Order"],"range":["#0000ff","#000000","#800000","#008000","#000080","#000000"]},
   "legend":{"title":null,"orient":"none","legendX":471,"legendY":369,"direction":"vertical","fillColor":"white","strokeColor":"black","padding":4,"labelFont":"Liberation Sans","labelFontSize":12,"labelFontWeight":"bold","labelColor":"black","symbolSize":22,"symbolStrokeWidth":2,"rowPadding":2,"symbolOffset":3,"labelOffset":6}},
  "shape":{"field":"s","type":"nominal","scale":{"domain":["8 - 11/17","9 - 11/18","10 - 11/18","11 - 11/23","12 - 11/23","7th Order"],"range":["square","circle","triangle-up","triangle-down","diamond","M-2.7,0H2.7"]},
   "legend":{"title":null,"orient":"none","legendX":471,"legendY":369,"direction":"vertical","fillColor":"white","strokeColor":"black","padding":4,"labelFont":"Liberation Sans","labelFontSize":12,"labelFontWeight":"bold","labelColor":"black","symbolSize":22,"symbolStrokeWidth":2,"rowPadding":2,"symbolOffset":3,"labelOffset":6}}}},
{"data":{"name":"rings"},"mark":{"type":"point","filled":false,"size":190,"strokeWidth":1,"opacity":1},
 "encoding":{
  "x":{"field":"p","type":"quantitative","scale":{"domain":[-0.12,1.1178],"nice":false,"zero":false},
   "axis":{"orient":"top","values":[0,0.1,0.2,0.3,0.4,0.5,0.6,0.7,0.8,0.9,1],"labels":false,"title":null,"grid":false,"domain":true,"domainColor":"black","domainWidth":2,"ticks":true,"tickColor":"black","tickWidth":1,"tickSize":-7}},
  "y":{"field":"m","type":"quantitative","scale":{"domain":[14.64,15.365],"reverse":true,"nice":false,"zero":false},
   "axis":{"orient":"right","values":[14.7,14.75,14.8,14.85,14.9,14.95,15.0,15.05,15.1,15.15,15.2,15.25,15.3],"labels":false,"title":null,"grid":false,"domain":false,"ticks":true,"tickColor":"black","tickWidth":1,"tickSize":-7}},
  "shape":{"field":"k","type":"nominal","scale":{"domain":["square","circle"],"range":["square","circle"]},"legend":null},
  "stroke":{"field":"s","type":"nominal","scale":{"domain":["1 - 10/18","2 - 10/19","3 - 10/21","4 - 10/28","8 - 11/17","9 - 11/18"],"range":["#a05050","#50a050","#5050a0","#a060b0","#6060d0","#707070"]},"legend":null}}},
{"data":{"values":[{"t":"Phased Plot: 1342 Brabantia"}]},"mark":{"type":"text","font":"DejaVu Sans","fontSize":22.5,"fontWeight":"bold","align":"center","baseline":"alphabetic","color":"black"},
 "encoding":{"x":{"datum":0.5,"type":"quantitative","scale":{"domain":[-0.12,1.1178],"nice":false,"zero":false},"axis":null},"y":{"datum":14.7025,"type":"quantitative","scale":{"domain":[14.64,15.365],"reverse":true,"nice":false,"zero":false},"axis":null},"text":{"field":"t"}}},
{"data":{"values":[{"t":"Period: 4.175 ± 0.001 h\u00a0\u00a0Amp: 0.13"}]},"mark":{"type":"text","font":"Liberation Sans","fontSize":17,"fontWeight":"bold","align":"center","baseline":"alphabetic","color":"black"},
 "encoding":{"x":{"datum":0.5,"type":"quantitative","scale":{"domain":[-0.12,1.1178],"nice":false,"zero":false},"axis":null},"y":{"datum":14.7448,"type":"quantitative","scale":{"domain":[14.64,15.365],"reverse":true,"nice":false,"zero":false},"axis":null},"text":{"field":"t"}}},
{"data":{"values":[{"t":"JDo(LTC): 2459141.263972"}]},"mark":{"type":"text","font":"Liberation Sans","fontSize":16,"fontWeight":"bold","align":"left","baseline":"alphabetic","color":"black"},
 "encoding":{"x":{"datum":-0.087,"type":"quantitative","scale":{"domain":[-0.12,1.1178],"nice":false,"zero":false},"axis":null},"y":{"datum":15.3327,"type":"quantitative","scale":{"domain":[14.64,15.365],"reverse":true,"nice":false,"zero":false},"axis":null},"text":{"field":"t"}}}
],
"resolve":{"scale":{"color":"independent","shape":"independent","stroke":"independent"},"axis":{"x":"independent","y":"independent"}}
}
